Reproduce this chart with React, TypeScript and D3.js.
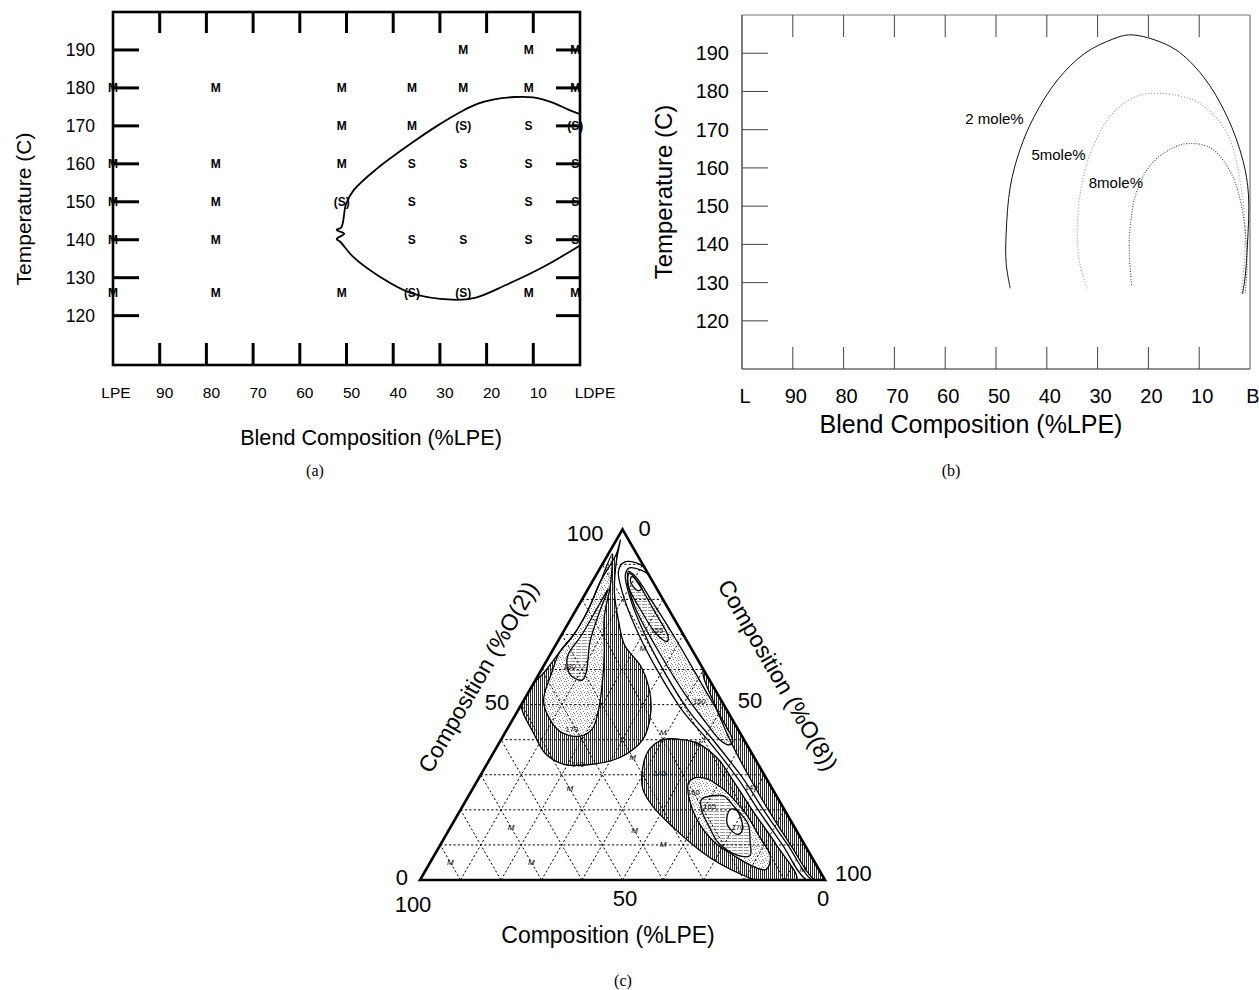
import React from "react";
import * as d3 from "d3";

const SANS = "'Liberation Sans', Arial, Helvetica, sans-serif";
const SERIF = "'Liberation Serif', 'Times New Roman', serif";

// ---------- panel (a): cloud-point observations ----------
const aTempTicks = [120, 130, 140, 150, 160, 170, 180, 190];
const aCompTicks = [100, 90, 80, 70, 60, 50, 40, 30, 20, 10, 0];
const aCompLabels = ["LPE", "90", "80", "70", "60", "50", "40", "30", "20", "10", "LDPE"];
const aColumns = [100, 78, 51, 36, 25, 11, 1];
const aRows = [190, 180, 170, 160, 150, 140, 126];
const aObserved = [
  ["", "", "", "", "M", "M", "M"],
  ["M", "M", "M", "M", "M", "M", "M"],
  ["", "", "M", "M", "(S)", "S", "(S)"],
  ["M", "M", "M", "S", "S", "S", "S"],
  ["M", "M", "(S)", "S", "", "S", "S"],
  ["M", "M", "", "S", "S", "S", "S"],
  ["M", "M", "M", "(S)", "(S)", "M", "M"],
];
// boundary: [%LPE, temperature]
const aBoundary: [number, number][] = [
  [0, 173.1], [2.5, 174.3], [6, 176.2], [10, 177.5], [14, 177.6], [18.4, 177], [22, 175.8],
  [25.1, 174], [30.6, 170], [35.9, 165.6], [43.6, 158.6], [48.5, 153], [50.1, 149.4],
  [51.1, 143.3], [52.1, 142.6], [50.5, 141.6], [52.1, 140.2], [51.3, 139.4], [48.5, 135.4],
  [42.8, 130.2], [36.3, 126], [27.4, 124.2], [22.5, 124.7], [16, 128], [7.9, 132.8], [0, 138.5],
];

// ---------- panel (b): calculated binodals ----------
const bTempTicks = [120, 130, 140, 150, 160, 170, 180, 190];
const bCompTicks = [100, 90, 80, 70, 60, 50, 40, 30, 20, 10, 0];
const bCompLabels = ["L", "90", "80", "70", "60", "50", "40", "30", "20", "10", "B"];
const bMole2: [number, number][] = [
  [47.2, 128.5], [48, 135], [48, 142.9], [47.2, 155], [45.3, 164.7], [42.5, 173.4],
  [37.9, 183], [32.5, 190], [27, 193.7], [23.9, 194.8], [20, 194], [14.6, 190.9],
  [9.2, 183.9], [4.5, 173.4], [1.4, 162], [0.3, 153], [0.5, 140], [1, 131], [1.5, 127],
];
const bMole5: [number, number][] = [
  [32.1, 128.5], [33.5, 135], [34, 142.9], [33.2, 155], [30.9, 165.6], [27, 174.3],
  [22.4, 178.7], [19.3, 179.5], [14.6, 179], [9.9, 176.9], [4.5, 169], [1.4, 151.6],
  [1, 137.6], [1.8, 127],
];
const bMole8: [number, number][] = [
  [23.3, 129.4], [23.7, 136], [23.7, 142.9], [22.4, 153.4], [19.3, 161.2], [14.6, 165.6],
  [11.5, 166.4], [7.6, 165.1], [3.7, 158.6], [1.4, 148.1], [0.6, 134], [1, 127],
];
const bLabels = ["2 mole%", "5mole%", "8mole%"];
const bLabelAt: [number, number][] = [[50.3, 173], [37.7, 163.6], [26.4, 156.1]];

// ---------- panel (c): ternary map, points are [%LPE, %O(2), %O(8)] ----------
const cGrid = [10, 20, 30, 40, 50, 60, 70, 80, 90];
const cTicks = [0, 50, 100];
const cLeftOuter = [
  [50, 50, 0], [51, 42, 7], [51, 36, 13], [48, 33, 19], [41, 33, 26], [33, 35, 32], [25, 40, 35],
  [19, 48, 33], [16, 55, 29], [15, 61, 24], [16, 67, 17], [14, 74, 12], [11, 82, 7], [6, 91, 3],
  [2, 97, 1], [5, 93, 2], [13, 85, 2], [20, 77, 3], [27, 70, 3], [33, 65, 2], [40, 59, 1], [44, 56, 0],
];
const cLeftMid = [
  [6, 93, 1], [13, 85, 2], [20, 77, 3], [27, 70, 3], [33, 65, 2], [38, 59, 3], [44, 51, 5],
  [45, 45, 10], [44, 42, 14], [40, 41, 19], [36, 43, 21], [32, 48, 20], [27, 56, 17], [22, 65, 13],
  [17, 75, 8], [11, 84, 5], [7, 91, 2],
];
const cLeftInner = [
  [12, 83, 5], [18, 77, 5], [25, 70, 5], [31.5, 64, 4.5], [33.5, 60, 6.5], [33.5, 58, 8.5],
  [31.5, 57, 11.5], [29.5, 59, 11.5], [24, 68, 8], [17, 77, 6],
];
const cBandOuter = [
  [4.5, 0, 95.5], [5.5, 10, 84.5], [6.5, 20, 73.5], [7, 28.5, 64.5], [9, 40, 51], [11, 48, 41],
  [11.5, 60, 28.5], [11, 70, 19], [9.5, 80, 10.5], [7, 88, 5], [4.5, 90.5, 5], [1.5, 90.5, 8],
  [0, 89, 11], [0, 45, 55], [0, 0, 100],
];
const cBandInner = [
  [3.2, 0, 96.8], [4.2, 10, 85.8], [5.2, 20, 74.8], [5.7, 28.5, 65.8], [7.7, 40, 52.3],
  [9.5, 48, 42.5], [10, 60, 30], [9.5, 70, 20.5], [8, 80, 12], [5.8, 87, 7.2], [3.8, 89, 7.2],
  [1.5, 88.5, 10], [0, 87, 13], [0, 45, 55], [0, 0, 100],
];
const cBandEdge = [
  [0, 60, 40], [1, 58, 41], [2.2, 50, 47.8], [3.5, 40, 56.5], [4, 30, 66], [4, 20, 76],
  [3.5, 10, 86.5], [2.5, 0, 97.5], [0, 0, 100], [0, 30, 70],
];
const cBand150 = [
  [4.5, 88, 7.5], [6, 85.5, 8.5], [8, 78, 14], [8.5, 65, 26.5], [8, 52, 40], [7, 45, 48],
  [6, 40, 54], [4.5, 38.5, 57], [3, 39.5, 57.5], [2.5, 45, 52.5], [2.5, 55, 42.5],
  [2.5, 68, 29.5], [3, 80, 17], [3.5, 86.5, 10],
];
const cBand155 = [
  [4.5, 87.5, 8], [6.5, 84.5, 9], [7, 76, 17], [6.5, 70, 23.5], [5, 68, 27], [4, 69.5, 26.5],
  [3.8, 77, 19.2], [3.8, 84, 12.2],
];
const cBandTip = [[4.5, 86.5, 9], [5.5, 85, 9.5], [5, 82.5, 12.5], [3.8, 83, 13.2], [3.8, 85.5, 10.7]];
const cLobeOuter = [
  [20, 40, 40], [25, 37, 38], [29, 32, 39], [32, 26, 42], [32, 21, 47], [30, 15, 55], [27, 9, 64],
  [24, 5, 71], [19, 1, 80], [17, 0, 83], [7, 0, 93], [7, 10, 83], [8, 20, 72], [8.5, 28.5, 63],
  [9, 34, 57], [10, 36.5, 53.5], [12, 39, 49], [15, 40, 45],
];
const cLobe160 = [
  [20, 27.5, 52.5], [18, 29, 53], [15, 29, 56], [12.5, 26.5, 61], [11, 23, 66], [10, 18, 72],
  [10, 12, 78], [10, 7, 83], [13, 3, 84], [16, 4, 80], [19, 7, 74], [22, 11, 67], [23, 17, 60],
  [22, 23, 55],
];
const cLobe165 = [
  [19, 23, 58], [16, 24, 60], [13, 24, 63], [12, 21, 67], [11, 16, 73], [13, 11, 76], [15, 7, 78],
  [18, 7, 75], [21, 10.5, 68.5], [21, 15, 64], [20.5, 20, 59.5],
];
const cLobe170 = [[13.5, 20, 66.5], [12, 20, 68], [12, 17.5, 70.5], [13.5, 14, 72.5], [15, 13, 72], [16, 14, 70], [16, 16.5, 67.5]];
const cContourText = ["180", "170", "155", "150", "145", "160", "165", "170", "140", "140"];
const cContourTextAt = [
  [32.5, 61, 6.5], [41, 43, 16], [6, 71, 23], [5.5, 51, 43.5], [5, 26.5, 68.5], [20, 25, 55],
  [18, 21, 61], [14, 15, 71], [44.5, 33, 22.5], [25.5, 30.5, 44],
];
const cMiscible = [
  [12, 66, 22], [19, 42, 39], [30, 35, 35], [12, 39, 49], [50, 26, 24], [70, 15, 15], [40, 14, 46],
  [35, 10, 55], [90, 5, 5], [70, 5, 25], [4, 3, 93],
];

const STIPPLE_DOTS = [[1, 1], [4, 2], [2, 4], [6, 5], [0, 6], [5, 0], [3, 6], [6, 2]];

function Patterns() {
  return (
    <defs>
      <pattern id="hatch" width={2} height={4} patternUnits="userSpaceOnUse">
        <rect width={2} height={4} fill="#fff" />
        <rect x={0} y={0} width={1} height={4} fill="#2a2a2a" />
      </pattern>
      <pattern id="stipple" width={7} height={7} patternUnits="userSpaceOnUse">
        <rect width={7} height={7} fill="#fff" />
        {STIPPLE_DOTS.map(([x, y], i) => (
          <rect key={i} x={x} y={y} width={1} height={1} fill="#8a8a8a" />
        ))}
      </pattern>
      <pattern id="hlines" width={6} height={3} patternUnits="userSpaceOnUse">
        <rect width={6} height={3} fill="#fff" />
        <rect x={0} y={1} width={5} height={1} fill="#9a9a9a" />
      </pattern>
      <clipPath id="triClip">
        <path d="M420,880 L825,880 L622.5,529.3 Z" />
      </clipPath>
    </defs>
  );
}

function PanelA() {
  const x = d3.scaleLinear().domain([100, 0]).range([113, 580]);
  const y = d3.scaleLinear().domain([107, 200]).range([365, 12]);
  const line = d3
    .line<[number, number]>()
    .x((d) => x(d[0]))
    .y((d) => y(d[1]))
    .curve(d3.curveCatmullRom.alpha(0.5));
  const [x0, x1] = x.range();
  const [y0, y1] = y.range();
  return (
    <g>
      {aCompTicks.slice(1, -1).map((v) => (
        <g key={v} stroke="#000" strokeWidth={3}>
          <line x1={x(v)} x2={x(v)} y1={y1} y2={y1 + 21} />
          <line x1={x(v)} x2={x(v)} y1={y0 - 22} y2={y0} />
        </g>
      ))}
      {aTempTicks.map((t) => (
        <g key={t}>
          <line x1={x0} x2={x0 + 26} y1={y(t)} y2={y(t)} stroke="#000" strokeWidth={3} />
          <line x1={x1 - 24} x2={x1} y1={y(t)} y2={y(t)} stroke="#000" strokeWidth={3} />
          <text x={95} y={y(t)} textAnchor="end" dominantBaseline="central" fontSize={17.5}>
            {t}
          </text>
        </g>
      ))}
      <rect x={x0} y={y1} width={x1 - x0} height={y0 - y1} fill="none" stroke="#000" strokeWidth={2.6} />
      {aCompTicks.map((v, i) => {
        const shift = v === 100 ? 3 : v === 0 ? 15 : 5;
        return (
          <text key={v} x={x(v) + shift} y={392} textAnchor="middle" dominantBaseline="central" fontSize={15.5}>
            {aCompLabels[i]}
          </text>
        );
      })}
      {aRows.map((t, r) =>
        aColumns.map((c, k) =>
          aObserved[r][k] ? (
            <text
              key={`${r}-${k}`}
              x={x(c)}
              y={y(t)}
              textAnchor="middle"
              dominantBaseline="central"
              fontSize={12}
              fontWeight="bold"
            >
              {aObserved[r][k]}
            </text>
          ) : null
        )
      )}
      <path d={line(aBoundary) || ""} fill="none" stroke="#000" strokeWidth={1.8} />
      <text x={371} y={437} textAnchor="middle" dominantBaseline="central" fontSize={21.6}>
        Blend Composition (%LPE)
      </text>
      <text transform="translate(23,209) rotate(-90)" textAnchor="middle" dominantBaseline="central" fontSize={21}>
        Temperature (C)
      </text>
      <text x={315} y={470} textAnchor="middle" dominantBaseline="central" fontSize={16} fontFamily={SERIF}>
        (a)
      </text>
    </g>
  );
}

function PanelB() {
  const x = d3.scaleLinear().domain([100, 0]).range([742, 1250]);
  const y = d3.scaleLinear().domain([107.4, 200]).range([369, 15]);
  const line = d3
    .line<[number, number]>()
    .x((d) => x(d[0]))
    .y((d) => y(d[1]))
    .curve(d3.curveCatmullRom.alpha(0.5));
  const [x0, x1] = x.range();
  const [y0, y1] = y.range();
  return (
    <g>
      <line x1={x0} x2={x1} y1={y1} y2={y1} stroke="#777" strokeWidth={1} />
      <line x1={x1} x2={x1} y1={y1} y2={y0} stroke="#888" strokeWidth={1.4} />
      <line x1={x0} x2={x0} y1={y1} y2={y0} stroke="#222" strokeWidth={1.2} />
      <line x1={x0} x2={x1} y1={y0} y2={y0} stroke="#222" strokeWidth={1.2} />
      {bCompTicks.slice(1, -1).map((v) => (
        <g key={v} stroke="#444" strokeWidth={1}>
          <line x1={x(v)} x2={x(v)} y1={y1} y2={y1 + 22} />
          <line x1={x(v)} x2={x(v)} y1={y0 - 22} y2={y0} />
        </g>
      ))}
      {bTempTicks.map((t) => (
        <g key={t}>
          <line x1={x0} x2={x0 + 26} y1={y(t)} y2={y(t)} stroke="#444" strokeWidth={1} />
          <text x={729} y={y(t)} textAnchor="end" dominantBaseline="central" fontSize={20}>
            {t}
          </text>
        </g>
      ))}
      {bCompTicks.map((v, i) => (
        <text key={v} x={x(v) + 3} y={396} textAnchor="middle" dominantBaseline="central" fontSize={20}>
          {bCompLabels[i]}
        </text>
      ))}
      <path d={line(bMole2) || ""} fill="none" stroke="#111" strokeWidth={1} />
      <path d={line(bMole5) || ""} fill="none" stroke="#9a9a9a" strokeWidth={1.2} strokeDasharray="1,2" />
      <path d={line(bMole8) || ""} fill="none" stroke="#444" strokeWidth={1.1} strokeDasharray="1,1.6" />
      {bLabels.map((s, i) => (
        <text
          key={s}
          x={x(bLabelAt[i][0])}
          y={y(bLabelAt[i][1])}
          textAnchor="middle"
          dominantBaseline="central"
          fontSize={15}
        >
          {s}
        </text>
      ))}
      <text x={971} y={424} textAnchor="middle" dominantBaseline="central" fontSize={25}>
        Blend Composition (%LPE)
      </text>
      <text transform="translate(663,192) rotate(-90)" textAnchor="middle" dominantBaseline="central" fontSize={24}>
        Temperature (C)
      </text>
      <text x={951} y={470} textAnchor="middle" dominantBaseline="central" fontSize={16} fontFamily={SERIF}>
        (b)
      </text>
    </g>
  );
}

function PanelC() {
  const side = 405;
  const h = (side * Math.sqrt(3)) / 2;
  const along = d3.scaleLinear().domain([0, 100]).range([420, 420 + side]);
  const up = d3.scaleLinear().domain([0, 100]).range([880, 880 - h]);
  const P = (t: number[]): [number, number] => [along(t[2] + t[1] / 2), up(t[1])];
  const closed = d3.line().curve(d3.curveCatmullRomClosed.alpha(0.5));
  const d = (pts: number[][]) => closed(pts.map(P)) || "";
  const [bl, tp, br] = [P([100, 0, 0]), P([0, 100, 0]), P([0, 0, 100])];

  const regions: [number[][], string][] = [
    [cLeftOuter, "url(#hatch)"],
    [cLeftMid, "url(#stipple)"],
    [cLeftInner, "url(#hlines)"],
    [cBandOuter, "#fff"],
    [cBandInner, "#fff"],
    [cBandEdge, "url(#hatch)"],
    [cBand150, "url(#stipple)"],
    [cBand155, "url(#hlines)"],
    [cBandTip, "#fff"],
    [cLobeOuter, "url(#hatch)"],
    [cLobe160, "url(#stipple)"],
    [cLobe165, "url(#hlines)"],
    [cLobe170, "#fff"],
  ];

  const gridLines: [number[], number[]][] = [];
  cGrid.forEach((v) => {
    gridLines.push([[100 - v, v, 0], [0, v, 100 - v]]);
    gridLines.push([[100 - v, 0, v], [0, 100 - v, v]]);
    gridLines.push([[v, 0, 100 - v], [v, 100 - v, 0]]);
  });

  return (
    <g>
      <g clipPath="url(#triClip)">
        {regions.map(([pts, fill], i) => (
          <path key={i} d={d(pts)} fill={fill} stroke="none" />
        ))}
        {gridLines.map(([a, b], i) => {
          const [pa, pb] = [P(a), P(b)];
          return (
            <line
              key={i}
              x1={pa[0]}
              y1={pa[1]}
              x2={pb[0]}
              y2={pb[1]}
              stroke="#000"
              strokeWidth={1}
              strokeDasharray="2.2,2.2"
            />
          );
        })}
        {regions.map(([pts], i) => (
          <path key={`o${i}`} d={d(pts)} fill="none" stroke="#000" strokeWidth={1.3} />
        ))}
      </g>
      {cMiscible.map((t, i) => {
        const [px, py] = P(t);
        return (
          <text key={i} x={px} y={py} textAnchor="middle" dominantBaseline="central" fontSize={8} fontStyle="italic" fill="#000">
            M
          </text>
        );
      })}
      {cContourText.map((s, i) => {
        const [px, py] = P(cContourTextAt[i]);
        return (
          <text key={i} x={px} y={py} textAnchor="middle" dominantBaseline="central" fontSize={7.5}>
            {s}
          </text>
        );
      })}
      <path
        d={`M${bl[0]},${bl[1]} L${br[0]},${br[1]} L${tp[0]},${tp[1]} Z`}
        fill="none"
        stroke="#000"
        strokeWidth={2.6}
        strokeLinejoin="miter"
      />
      {/* left side: %O(2) */}
      {cTicks.map((v) => {
        const [px, py] = P([100 - v, v, 0]);
        const dx = v === 100 ? -19 : -12;
        const dy = v === 100 ? 4 : v === 50 ? -2 : -3;
        return (
          <text key={`l${v}`} x={px + dx} y={py + dy} textAnchor="end" dominantBaseline="central" fontSize={22}>
            {v}
          </text>
        );
      })}
      {/* right side: %O(8) */}
      {cTicks.map((v) => {
        const [px, py] = P([0, 100 - v, v]);
        const dx = v === 0 ? 16 : v === 50 ? 14 : 10;
        const dy = v === 0 ? -1 : v === 50 ? -4 : -7;
        return (
          <text key={`r${v}`} x={px + dx} y={py + dy} textAnchor="start" dominantBaseline="central" fontSize={22}>
            {v}
          </text>
        );
      })}
      {/* bottom: %LPE */}
      {cTicks.map((v) => {
        const [px, py] = P([v, 0, 100 - v]);
        const dx = v === 100 ? -7 : v === 50 ? 2.5 : -2;
        const dy = v === 100 ? 24 : 18;
        return (
          <text key={`b${v}`} x={px + dx} y={py + dy} textAnchor="middle" dominantBaseline="central" fontSize={22}>
            {v}
          </text>
        );
      })}
      <text x={608} y={935} textAnchor="middle" dominantBaseline="central" fontSize={23}>
        Composition (%LPE)
      </text>
      <text transform="translate(478,677) rotate(-60)" textAnchor="middle" dominantBaseline="central" fontSize={23}>
        Composition (%O(2))
      </text>
      <text transform="translate(778,675) rotate(60)" textAnchor="middle" dominantBaseline="central" fontSize={23}>
        Composition (%O(8))
      </text>
      <text x={623} y={980} textAnchor="middle" dominantBaseline="central" fontSize={16} fontFamily={SERIF}>
        (c)
      </text>
    </g>
  );
}

export default function App() {
  return (
    <svg
      width={1259}
      height={990}
      style={{ position: "absolute", left: 0, top: 0, background: "#fff" }}
      fontFamily={SANS}
    >
      <Patterns />
      <rect width={1259} height={990} fill="#fff" />
      <PanelA />
      <PanelB />
      <PanelC />
    </svg>
  );
}
